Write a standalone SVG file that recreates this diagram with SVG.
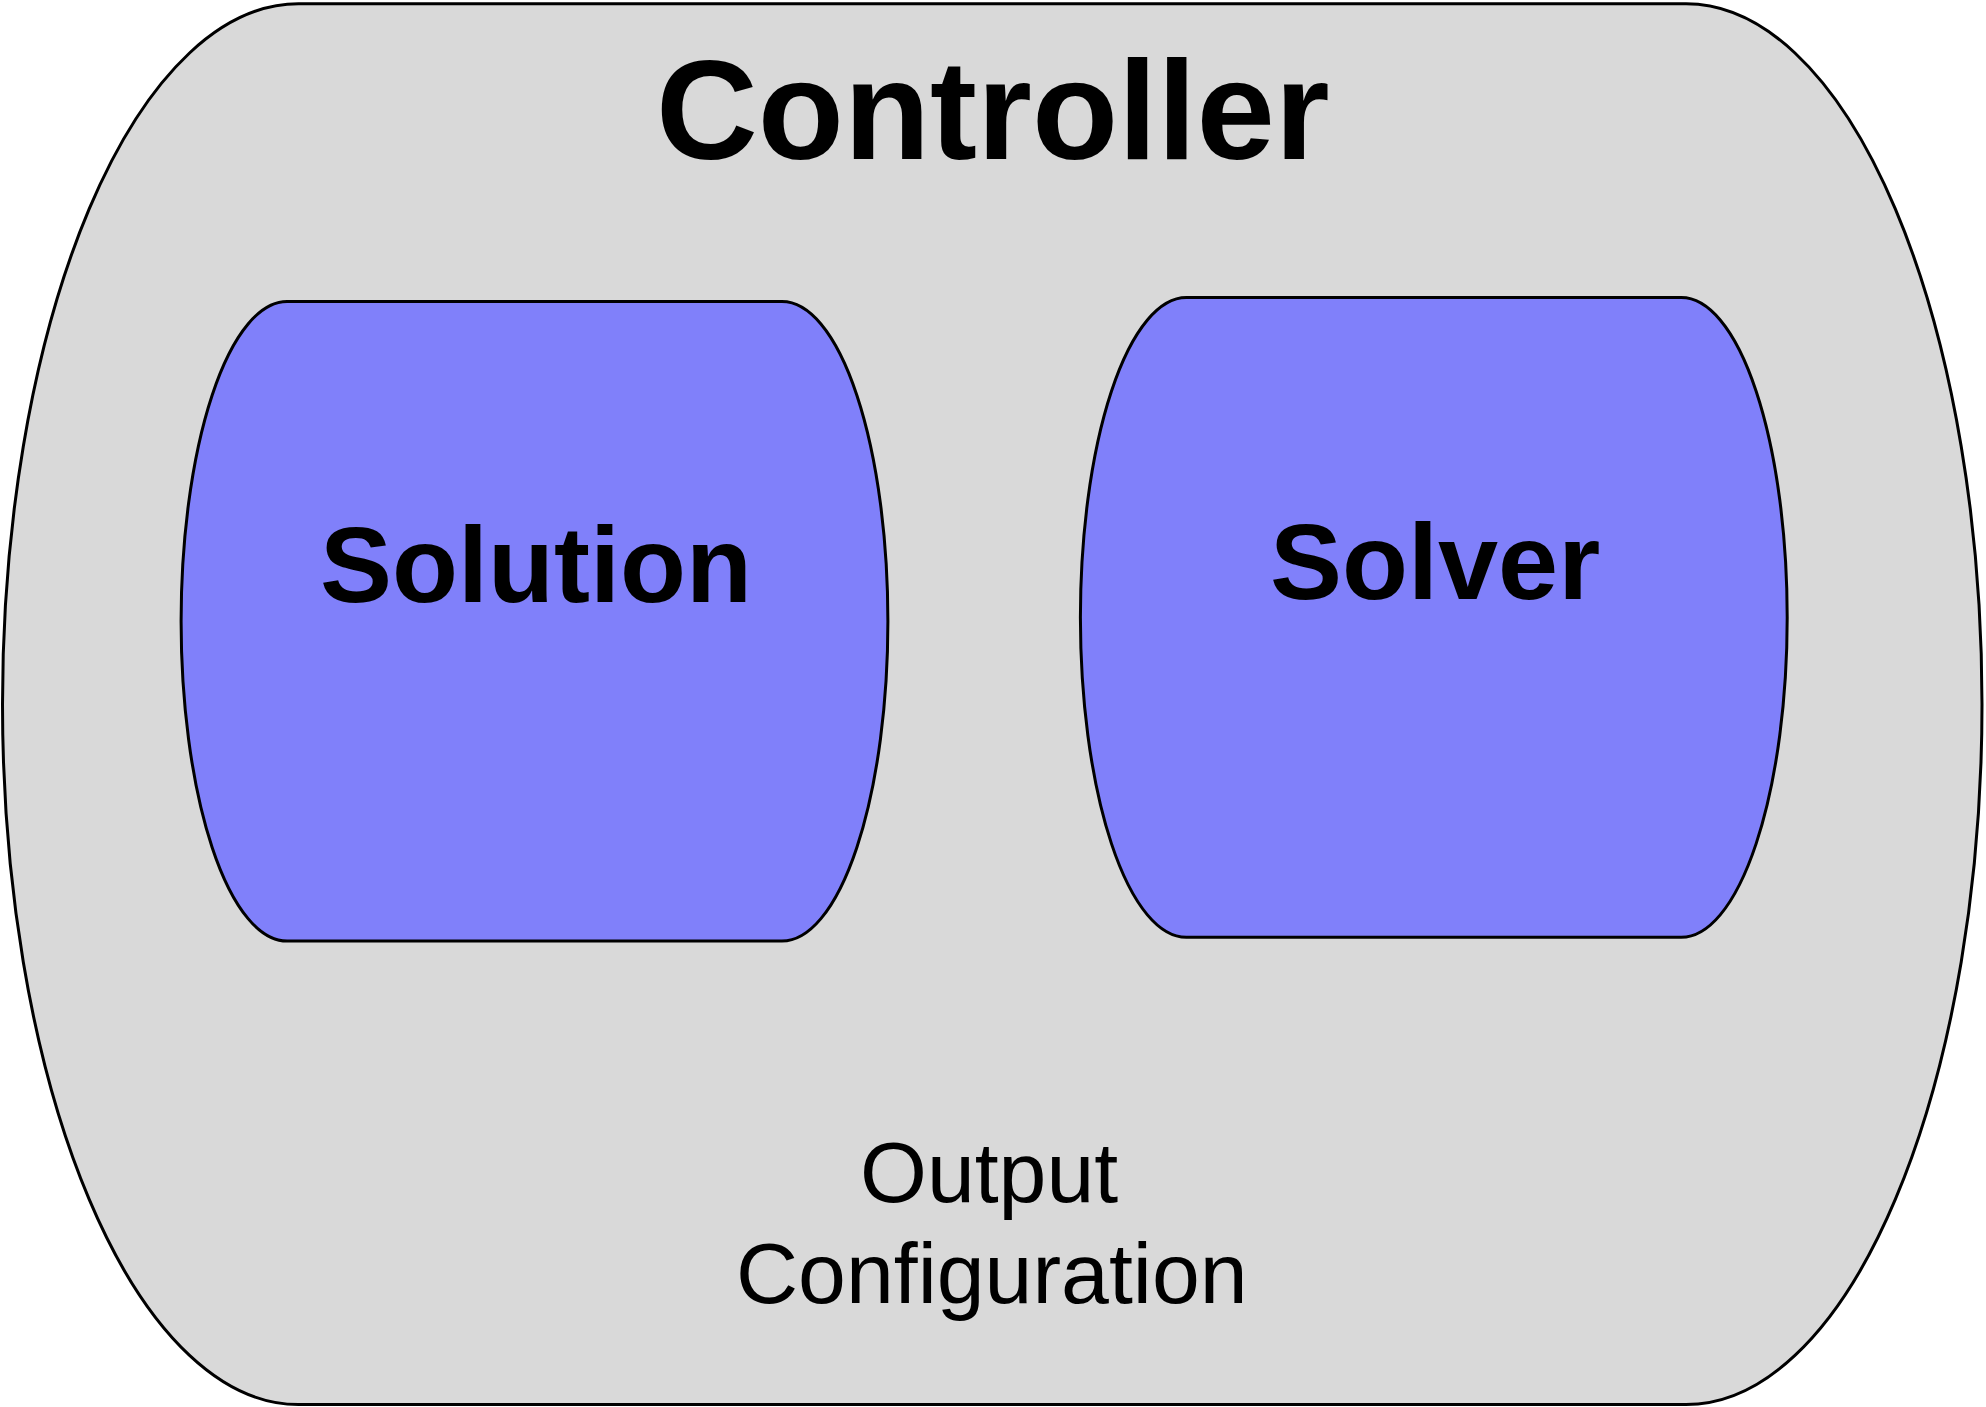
<svg xmlns="http://www.w3.org/2000/svg" width="1986" height="1407" viewBox="0 0 1986 1407">
<style>
.shape{stroke:#000;stroke-width:3}
.outer{fill:#d9d9d9}
.inner{fill:#8080fa}
.bold{font-family:"Liberation Sans",Arial,Helvetica,sans-serif;font-weight:bold;fill:#000}
.reg{font-family:"Liberation Sans",Arial,Helvetica,sans-serif;font-weight:normal;fill:#000}
</style>
<rect x="0" y="0" width="1986" height="1407" fill="#ffffff"/>
<g id="controller">
<rect class="shape outer" x="2.5" y="3.8" width="1979.5" height="1400.8" rx="296" ry="700.4"/>
<text class="bold" x="656" y="159" font-size="141">Controller</text>
<text class="reg" x="860" y="1201.5" font-size="86">Output</text>
<text class="reg" x="736" y="1302.7" font-size="86">Configuration</text>
</g>
<g id="solution">
<rect class="shape inner" x="181.1" y="301.5" width="706.8" height="639.6" rx="106" ry="319.8"/>
<text class="bold" x="320" y="601.7" font-size="108">Solution</text>
</g>
<g id="solver">
<rect class="shape inner" x="1080.4" y="297.6" width="706.8" height="639.7" rx="106" ry="319.85"/>
<text class="bold" x="1270" y="599.3" font-size="108">Solver</text>
</g>
<g id="connectors"></g>
</svg>
